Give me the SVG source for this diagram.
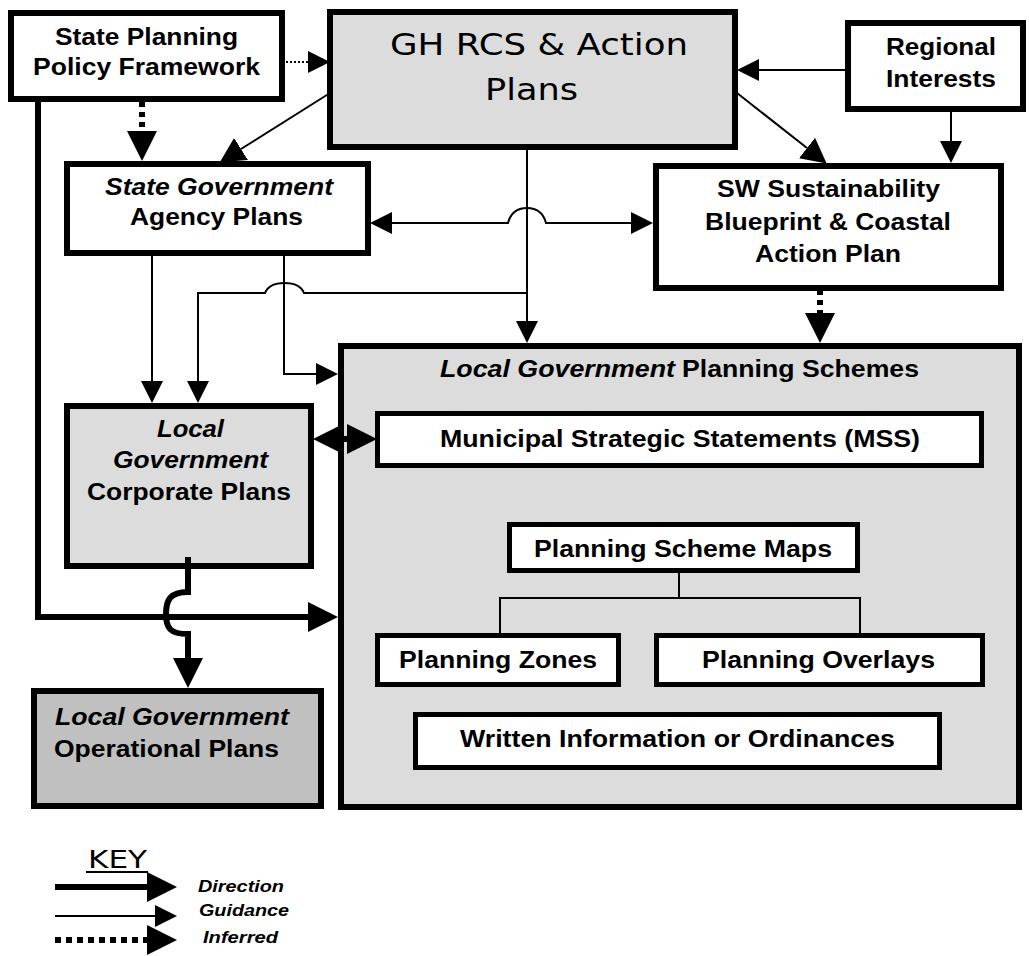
<svg xmlns="http://www.w3.org/2000/svg" width="1029" height="956" viewBox="0 0 1029 956">
  <style>
    .box { fill: #ffffff; stroke: #000; stroke-width: 6; }
    .grey { fill: #dcdcdc; }
    .dark { fill: #c0c0c0; }
    .inner { fill: #ffffff; stroke: #000; stroke-width: 5; }
    .lbl { font-family: "Liberation Sans", Arial, sans-serif; font-weight: bold; font-size: 23px; fill: #000; }
    .it { font-style: italic; }
    .mid { text-anchor: middle; }
    .big { font-family: "DejaVu Sans", Verdana, sans-serif; font-size: 30px; fill: #000; }
    .key { font-family: "Liberation Sans", Arial, sans-serif; font-weight: bold; font-style: italic; font-size: 17px; fill: #000; }
    .thin { fill: none; stroke: #000; stroke-width: 2; }
    .thick { fill: none; stroke: #000; stroke-width: 6; }
    .dots { fill: none; stroke: #000; stroke-width: 2; stroke-dasharray: 2 2; }
    .dash { fill: none; stroke: #000; stroke-width: 6; stroke-dasharray: 5 5; }
  </style>
  <defs>
    <marker id="hThin" markerUnits="userSpaceOnUse" markerWidth="22" markerHeight="22" refX="0" refY="11" orient="auto">
      <path d="M0,0 L22,11 L0,22 z" fill="#000"/>
    </marker>
    <marker id="hDiag" markerUnits="userSpaceOnUse" markerWidth="25" markerHeight="26" refX="0" refY="13" orient="auto">
      <path d="M0,0 L25,13 L0,26 z" fill="#000"/>
    </marker>
    <marker id="hThick" markerUnits="userSpaceOnUse" markerWidth="30" markerHeight="30" refX="0" refY="15" orient="auto">
      <path d="M0,0 L30,15 L0,30 z" fill="#000"/>
    </marker>
    <marker id="hThickStart" markerUnits="userSpaceOnUse" markerWidth="30" markerHeight="30" refX="30" refY="15" orient="auto">
      <path d="M30,0 L0,15 L30,30 z" fill="#000"/>
    </marker>
    <marker id="hThinStart" markerUnits="userSpaceOnUse" markerWidth="22" markerHeight="22" refX="22" refY="11" orient="auto">
      <path d="M22,0 L0,11 L22,22 z" fill="#000"/>
    </marker>
  </defs>

  <g id="spp-framework">
    <rect class="box" x="11" y="13" width="271" height="86"/>
    <text class="lbl mid" x="146.5" y="45" textLength="183" lengthAdjust="spacingAndGlyphs">State Planning</text>
    <text class="lbl mid" x="146.5" y="75" textLength="227" lengthAdjust="spacingAndGlyphs">Policy Framework</text>
  </g>

  <g id="gh-rcs">
    <rect class="box grey" x="330" y="12" width="405" height="135"/>
    <text class="big mid" x="539" y="55" textLength="298" lengthAdjust="spacingAndGlyphs">GH RCS &amp; Action</text>
    <text class="big mid" x="531.5" y="100" textLength="93" lengthAdjust="spacingAndGlyphs">Plans</text>
  </g>

  <g id="regional-interests">
    <rect class="box" x="848" y="23" width="175" height="86"/>
    <text class="lbl mid" x="941" y="55" textLength="110" lengthAdjust="spacingAndGlyphs">Regional</text>
    <text class="lbl mid" x="941" y="87" textLength="110" lengthAdjust="spacingAndGlyphs">Interests</text>
  </g>

  <g id="agency-plans">
    <rect class="box" x="67" y="164" width="301" height="89"/>
    <text class="lbl it mid" x="219" y="195" textLength="228" lengthAdjust="spacingAndGlyphs">State Government</text>
    <text class="lbl mid" x="216.5" y="225" textLength="173" lengthAdjust="spacingAndGlyphs">Agency Plans</text>
  </g>

  <g id="sw-blueprint">
    <rect class="box" x="656" y="166" width="345" height="122"/>
    <text class="lbl mid" x="828.5" y="197" textLength="223" lengthAdjust="spacingAndGlyphs">SW Sustainability</text>
    <text class="lbl mid" x="828" y="230" textLength="246" lengthAdjust="spacingAndGlyphs">Blueprint &amp; Coastal</text>
    <text class="lbl mid" x="828" y="262" textLength="146" lengthAdjust="spacingAndGlyphs">Action Plan</text>
  </g>

  <g id="corporate-plans">
    <rect class="box grey" x="67" y="406" width="244" height="160"/>
    <text class="lbl it mid" x="190.5" y="437" textLength="67" lengthAdjust="spacingAndGlyphs">Local</text>
    <text class="lbl it mid" x="190.5" y="468" textLength="155" lengthAdjust="spacingAndGlyphs">Government</text>
    <text class="lbl mid" x="189" y="500" textLength="204" lengthAdjust="spacingAndGlyphs">Corporate Plans</text>
  </g>

  <g id="operational-plans">
    <rect class="box dark" x="34" y="691" width="287" height="115"/>
    <text class="lbl it" x="55" y="725" textLength="234" lengthAdjust="spacingAndGlyphs">Local Government</text>
    <text class="lbl" x="54" y="757" textLength="225" lengthAdjust="spacingAndGlyphs">Operational Plans</text>
  </g>

  <g id="planning-schemes">
    <rect class="box grey" x="341" y="346" width="678" height="461"/>
    <text class="lbl it" x="440" y="377" textLength="235" lengthAdjust="spacingAndGlyphs">Local Government</text>
    <text class="lbl" x="682" y="377" textLength="237" lengthAdjust="spacingAndGlyphs">Planning Schemes</text>
  </g>

  <g id="mss">
    <rect class="inner" x="377.5" y="413.5" width="604" height="52"/>
    <text class="lbl" x="440" y="447" textLength="480" lengthAdjust="spacingAndGlyphs">Municipal Strategic Statements (MSS)</text>
  </g>

  <g id="scheme-maps">
    <rect class="inner" x="509.5" y="524.5" width="348" height="46"/>
    <text class="lbl" x="534" y="557" textLength="298" lengthAdjust="spacingAndGlyphs">Planning Scheme Maps</text>
  </g>

  <g id="planning-zones">
    <rect class="inner" x="377.5" y="635.5" width="241" height="49"/>
    <text class="lbl" x="399" y="668" textLength="198" lengthAdjust="spacingAndGlyphs">Planning Zones</text>
  </g>

  <g id="planning-overlays">
    <rect class="inner" x="656.5" y="635.5" width="326" height="49"/>
    <text class="lbl" x="702" y="668" textLength="233" lengthAdjust="spacingAndGlyphs">Planning Overlays</text>
  </g>

  <g id="written-info">
    <rect class="inner" x="415.5" y="714.5" width="524" height="53"/>
    <text class="lbl" x="460" y="747" textLength="435" lengthAdjust="spacingAndGlyphs">Written Information or Ordinances</text>
  </g>

  <!-- connectors, drawn over the boxes -->
  <g id="connectors">
    <!-- policy framework to GH RCS (inferred) -->
    <path class="dots" d="M286,62 H308" marker-end="url(#hThin)"/>
    <!-- policy framework to agency plans (inferred) -->
    <path class="dash" d="M142,102 V131" marker-end="url(#hThick)"/>
    <!-- GH RCS to agency plans -->
    <path class="thin" d="M330,93 L241,149" marker-end="url(#hDiag)"/>
    <!-- GH RCS to SW blueprint -->
    <path class="thin" d="M737,93 L807,148" marker-end="url(#hDiag)"/>
    <!-- regional interests to GH RCS -->
    <path class="thin" d="M846,70 H759" marker-end="url(#hThin)"/>
    <!-- regional interests to SW blueprint -->
    <path class="thin" d="M951,111 V141" marker-end="url(#hThin)"/>
    <!-- agency plans and SW blueprint, hopping the GH RCS line -->
    <path class="thin" d="M392,223 H508 Q512,208 527,208 Q542,208 546,223 H631" marker-start="url(#hThinStart)" marker-end="url(#hThin)"/>
    <!-- GH RCS down to planning schemes -->
    <path class="thin" d="M527,150 V321" marker-end="url(#hThin)"/>
    <!-- branch to corporate plans, hopping the agency line -->
    <path class="thin" d="M527,293 H304 Q300,283 284.5,283 Q269,283 265,293 H198 V381" marker-end="url(#hThin)"/>
    <!-- agency plans to corporate plans -->
    <path class="thin" d="M152,256 V381" marker-end="url(#hThin)"/>
    <!-- agency plans to planning schemes -->
    <path class="thin" d="M284,256 V374 H316" marker-end="url(#hThin)"/>
    <!-- SW blueprint to planning schemes (inferred) -->
    <path class="dash" d="M820,290 V313" marker-end="url(#hThick)"/>
    <!-- policy framework direction to planning schemes -->
    <path class="thick" d="M38,102 V617 H308" marker-end="url(#hThick)"/>
    <!-- corporate plans to operational plans, hopping the direction line -->
    <path class="thick" d="M188,557 V592 C170,592 166,600 166,614 C166,628 170,634 188,634 V658" marker-end="url(#hThick)"/>
    <!-- corporate plans and MSS -->
    <path class="thick" d="M343,439 H347" marker-start="url(#hThickStart)" marker-end="url(#hThick)"/>
    <!-- scheme maps tree -->
    <path class="thin" d="M679,573 V598 M500,633 V598 H860 V633"/>
  </g>

  <!-- legend -->
  <g id="key">
    <text class="big" x="88" y="868" style="font-size:24px" textLength="59" lengthAdjust="spacingAndGlyphs">KEY</text>
    <path class="thin" d="M86,872 H148"/>
    <path class="thick" d="M55,887 H147" marker-end="url(#hThick)"/>
    <path class="thin" d="M55,916 H155" marker-end="url(#hThin)"/>
    <path class="dash" d="M55,940 H147" style="stroke-dasharray:6 5" marker-end="url(#hThick)"/>
    <text class="key" x="198" y="892" textLength="86" lengthAdjust="spacingAndGlyphs">Direction</text>
    <text class="key" x="199" y="916" textLength="90" lengthAdjust="spacingAndGlyphs">Guidance</text>
    <text class="key" x="203" y="943" textLength="75" lengthAdjust="spacingAndGlyphs">Inferred</text>
  </g>
</svg>
